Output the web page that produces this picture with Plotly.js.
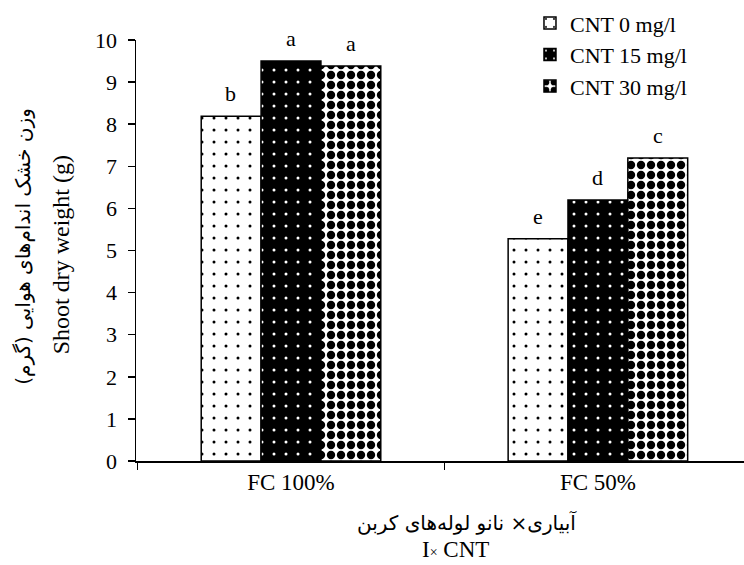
<!DOCTYPE html>
<html>
<head>
<meta charset="utf-8">
<script src="https://cdn.plot.ly/plotly-3.0.1.min.js"></script>
<style>html,body{margin:0;padding:0;background:#fff;}#chart{width:744px;height:565px;}</style>
</head>
<body>
<div id="chart"></div>
<script>
const groups = ['FC 100%', 'FC 50%'];
const seriesNames = ['CNT 0 mg/l', 'CNT 15 mg/l', 'CNT 30 mg/l'];
const cnt0 = [8.19, 5.28];
const cnt15 = [9.5, 6.2];
const cnt30 = [9.38, 7.2];
const letters0 = ['b', 'e'];
const letters15 = ['a', 'd'];
const letters30 = ['a', 'c'];
const yTitleFa = 'وزن خشک اندام‌های هوایی (گرم)';
const yTitleEn = 'Shoot dry weight (g)';
const xTitleFa = 'آبیاری× نانو لوله‌های کربن';
const xTitleEn = 'I<span style="font-size:14px">×</span> CNT';

const FONT = 'Liberation Serif, Times New Roman, DejaVu Sans, serif';
const FA_FONT = 'DejaVu Sans, Liberation Serif, serif';

function bar(name, y, pattern, color) {
  return {
    type: 'bar', name: name, x: groups, y: y,
    marker: {color: color, line: {color: '#000', width: 1.5}, pattern: pattern},
    hoverinfo: 'skip'
  };
}

const data = [
  bar(seriesNames[0], cnt0, {shape: '.', fgcolor: '#000', bgcolor: '#fff', size: 12, solidity: 0.05, fillmode: 'replace'}, '#fff'),
  bar(seriesNames[1], cnt15, {shape: '.', fgcolor: '#fff', bgcolor: '#000', size: 12, solidity: 0.05, fillmode: 'replace'}, '#000'),
  bar(seriesNames[2], cnt30, {shape: '.', fgcolor: '#000', bgcolor: '#fff', size: 10, solidity: 0.55, fillmode: 'replace'}, '#000')
];

const allVals = [cnt0, cnt15, cnt30];
const allLetters = [letters0, letters15, letters30];
const letterAnns = [];
allVals.forEach((vals, i) => {
  vals.forEach((v, j) => {
    letterAnns.push({
      x: groups[j], y: v, xref: 'x', yref: 'y', text: allLetters[i][j], showarrow: false,
      xanchor: 'center', yanchor: 'bottom', xshift: (i - 1) * 60, yshift: 8,
      font: {family: FONT, size: 22, color: '#000'}
    });
  });
});

const layout = {
  width: 744, height: 565,
  margin: {l: 136, r: 0, t: 40, b: 104},
  paper_bgcolor: '#fff', plot_bgcolor: '#fff',
  font: {family: FONT, size: 22, color: '#000'},
  barmode: 'group', bargap: 0.415, bargroupgap: 0,
  showlegend: true,
  legend: {x: 0.648, y: 1.09, xanchor: 'left', yanchor: 'top', bgcolor: 'rgba(0,0,0,0)',
           font: {family: FONT, size: 22, color: '#000'}, tracegroupgap: 0, itemclick: false},
  xaxis: {
    type: 'category', range: [-0.505, 1.476], tickson: 'boundaries',
    ticks: 'outside', ticklen: 7, tickwidth: 1.5, tickcolor: '#000',
    showline: true, linecolor: '#000', linewidth: 1.5, showgrid: false, zeroline: false,
    tickfont: {family: FONT, size: 23, color: '#000'}, fixedrange: true
  },
  yaxis: {
    range: [0, 10], dtick: 1, ticks: 'outside', ticklen: 7, tickwidth: 1.5, tickcolor: '#000',
    ticklabelstandoff: 6,
    showline: true, linecolor: '#000', linewidth: 1.5, showgrid: false, zeroline: false,
    tickfont: {family: FONT, size: 22, color: '#000'},
    fixedrange: true
  },
  annotations: letterAnns.concat([
    {text: yTitleFa, xref: 'paper', yref: 'paper', x: -0.185, y: 0.51, showarrow: false, textangle: -90,
     xanchor: 'center', yanchor: 'middle', font: {family: FA_FONT, size: 20, color: '#000'}},
    {text: yTitleEn, xref: 'paper', yref: 'paper', x: -0.124, y: 0.49, showarrow: false, textangle: -90,
     xanchor: 'center', yanchor: 'middle', font: {family: FONT, size: 24, color: '#000'}},
    {text: xTitleFa, xref: 'paper', yref: 'paper', x: 0.544, y: -0.145, showarrow: false,
     xanchor: 'center', yanchor: 'middle', font: {family: FA_FONT, size: 20, color: '#000'}},
    {text: xTitleEn, xref: 'paper', yref: 'paper', x: 0.525, y: -0.211, showarrow: false,
     xanchor: 'center', yanchor: 'middle', font: {family: FONT, size: 23, color: '#000'}}
  ])
};

Plotly.newPlot('chart', data, layout, {displayModeBar: false, staticPlot: true});
</script>
</body>
</html>
